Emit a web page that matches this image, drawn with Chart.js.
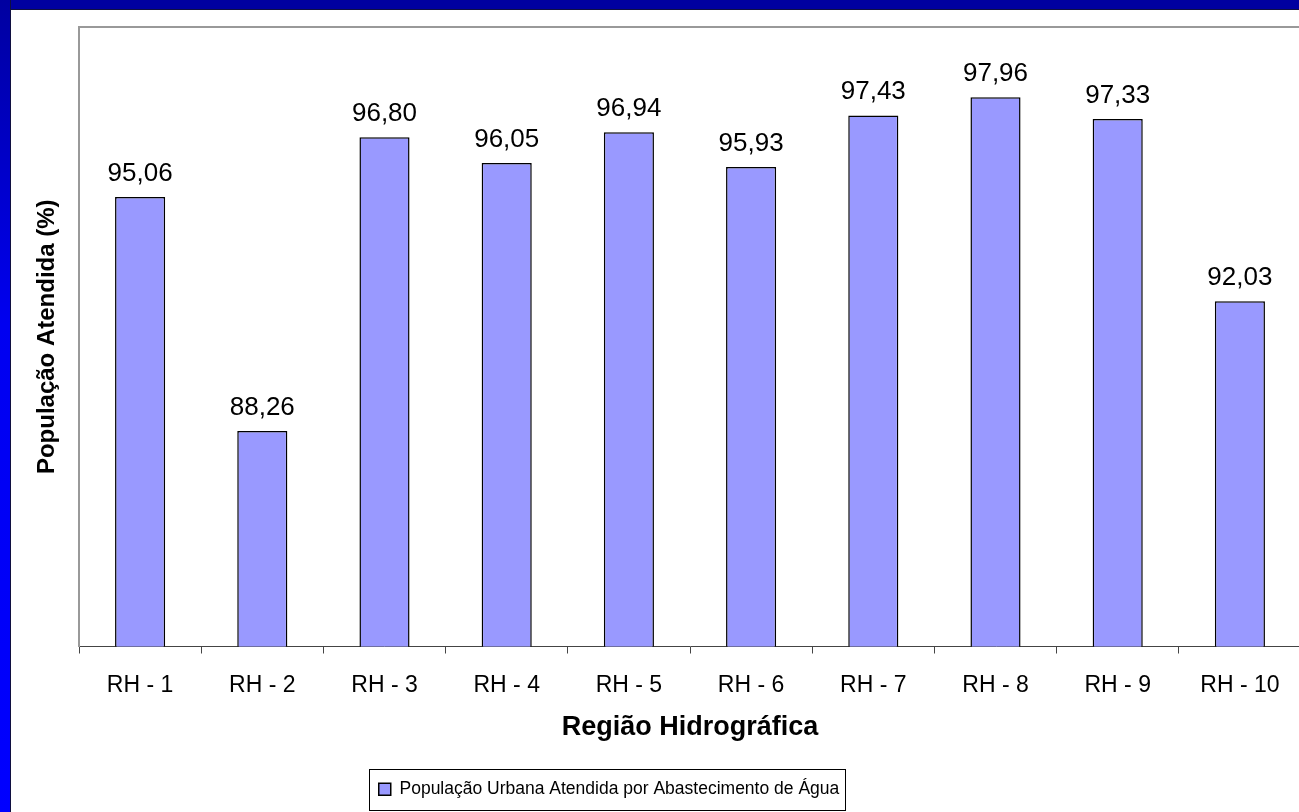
<!DOCTYPE html>
<html>
<head>
<meta charset="utf-8">
<script src="https://cdn.jsdelivr.net/npm/chart.js@4/dist/chart.umd.min.js"></script>
<style>
html, body { margin: 0; padding: 0; overflow: hidden; background: #fff; }
#left { position: absolute; left: 0; top: 0; width: 10px; height: 812px; background: linear-gradient(#0000a0, #0000f0 40%, #0000ff); border-right: 1px solid #101040; }
#top { position: absolute; left: 0; top: 0; width: 1299px; height: 9px; background: #0000a0; border-bottom: 1px solid #101040; }
#wrap { position: absolute; left: 11px; top: 10px; width: 1291px; height: 802px; }
</style>
</head>
<body>
<div id="top"></div>
<div id="left"></div>
<div id="wrap"><canvas id="grafico" width="1291" height="802"></canvas></div>
<script>
const categorias = ['RH - 1', 'RH - 2', 'RH - 3', 'RH - 4', 'RH - 5', 'RH - 6', 'RH - 7', 'RH - 8', 'RH - 9', 'RH - 10'];
const valores = [95.06, 88.26, 96.80, 96.05, 96.94, 95.93, 97.43, 97.96, 97.33, 92.03];
const nomeSerie = 'População Urbana Atendida por Abastecimento de Água';
const yMin = 82;
const yMax = 100;

const fonte = '"Liberation Sans", Arial, sans-serif';

// rótulos com vírgula em cima das barras
const rotulosBarras = {
    id: 'rotulosBarras',
    afterDatasetsDraw(chart) {
        const ctx = chart.ctx;
        const meta = chart.getDatasetMeta(0);
        ctx.save();
        ctx.font = '26px ' + fonte;
        ctx.fillStyle = '#000';
        ctx.textAlign = 'center';
        ctx.textBaseline = 'alphabetic';
        meta.data.forEach((barra, i) => {
            const txt = valores[i].toFixed(2).replace('.', ',');
            ctx.fillText(txt, barra.x, barra.y - 16);
        });
        ctx.restore();
    }
};

// moldura cinza em cima e caixa da legenda
const moldura = {
    id: 'moldura',
    afterLayout(chart) {
        // legenda um pouco à esquerda, como no original
        chart.legend.left -= 47;
        chart.legend.right -= 47;
    },
    beforeDatasetsDraw(chart) {
        const a = chart.chartArea;
        const ctx = chart.ctx;
        ctx.save();
        ctx.strokeStyle = '#999';
        ctx.lineWidth = 2;
        ctx.beginPath();
        ctx.moveTo(a.left - 1, a.top);
        ctx.lineTo(chart.width, a.top);
        ctx.stroke();
        ctx.restore();
    },
    afterDraw(chart) {
        const caixas = chart.legend.legendHitBoxes;
        if (!caixas || !caixas.length) return;
        const b = caixas[0];
        const ctx = chart.ctx;
        ctx.save();
        ctx.strokeStyle = '#000';
        ctx.lineWidth = 1;
        ctx.strokeRect(Math.round(b.left) - 9.5, Math.round(b.top) - 11.5, Math.round(b.width) + 16, Math.round(b.height) + 23);
        ctx.restore();
    }
};

new Chart(document.getElementById('grafico'), {
    type: 'bar',
    data: {
        labels: categorias,
        datasets: [{
            label: nomeSerie,
            data: valores,
            backgroundColor: '#9999ff',
            borderColor: '#000',
            borderWidth: 1.5,
            categoryPercentage: 1,
            barPercentage: 0.41
        }]
    },
    options: {
        responsive: false,
        animation: false,
        layout: { padding: { top: 17, right: 1, left: 0, bottom: 4 } },
        plugins: {
            tooltip: { enabled: false },
            legend: {
                position: 'bottom',
                labels: {
                    boxWidth: 12,
                    boxHeight: 12,
                    color: '#000',
                    font: { family: fonte, size: 17.5 },
                    padding: 10
                }
            }
        },
        scales: {
            x: {
                afterFit(scale) { scale.height = 124; },
                grid: { drawOnChartArea: false, tickLength: 7, color: '#444', offset: true },
                border: { color: '#444', width: 1 },
                ticks: { color: '#000', font: { family: fonte, size: 23 }, padding: 18, maxRotation: 0 },
                title: { display: true, text: 'Região Hidrográfica', color: '#000', font: { family: fonte, size: 27, weight: 'bold' }, padding: { bottom: 27 } }
            },
            y: {
                min: yMin,
                max: yMax,
                afterFit(scale) { scale.width = 68; },
                grid: { display: false },
                border: { display: true, color: '#999', width: 2 },
                ticks: { display: false },
                title: { display: true, text: 'População Atendida (%)', color: '#000', font: { family: fonte, size: 24, weight: 'bold' }, padding: { top: 22 } }
            }
        }
    },
    plugins: [rotulosBarras, moldura]
});
</script>
</body>
</html>
